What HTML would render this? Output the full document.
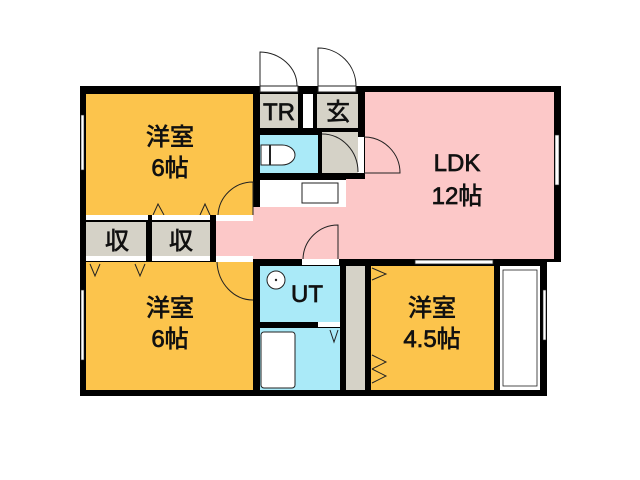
<!DOCTYPE html>
<html><head><meta charset="utf-8"><style>body{margin:0;background:#fff}svg{display:block}text{font-family:"Liberation Sans","Noto Sans CJK JP",sans-serif;fill:#111;stroke:#111;stroke-width:0.7}</style></head><body>
<svg width="640" height="480" viewBox="0 0 640 480">
<rect x="80" y="86" width="481" height="176" fill="#000"/>
<rect x="80" y="256" width="467" height="140" fill="#000"/>
<rect x="365" y="92" width="189" height="167" fill="#fcc8c8"/>
<rect x="216" y="207" width="338" height="52" fill="#fcc8c8"/>
<rect x="346" y="179" width="19" height="30" fill="#fcc8c8"/>
<rect x="260" y="180" width="86" height="27" fill="#fff"/>
<rect x="302" y="183" width="36" height="20" fill="#fff" stroke="#222" stroke-width="1"/>
<rect x="86" y="94" width="167" height="121" fill="#fcc44c"/>
<rect x="86" y="222" width="60" height="34" fill="#d5d2c7"/>
<rect x="152" y="222" width="58" height="34" fill="#d5d2c7"/>
<rect x="260" y="94" width="38" height="34" fill="#d5d2c7"/>
<rect x="303" y="94" width="10" height="34" fill="#fff"/>
<rect x="317" y="94" width="41" height="34" fill="#d5d2c7"/>
<rect x="322" y="132" width="36" height="41" fill="#d5d2c7"/>
<rect x="260" y="135" width="58" height="38" fill="#aaeaf8"/>
<path d="M261 145 H282 A13 10 0 0 1 282 165 H261 Z" fill="#fff" stroke="#222"/>
<line x1="270" y1="145" x2="270" y2="165" stroke="#222" stroke-width="2"/>
<rect x="86" y="262" width="167" height="128" fill="#fcc44c"/>
<rect x="260" y="266" width="80" height="56" fill="#aaeaf8"/>
<circle cx="276" cy="280" r="9" fill="#fff" stroke="#222"/>
<circle cx="276" cy="280" r="1.2" fill="#222"/>
<rect x="260" y="328" width="80" height="62" fill="#aaeaf8"/>
<rect x="261" y="332" width="34" height="56" rx="3" fill="#fff" stroke="#222"/>
<rect x="346" y="266" width="19" height="124" fill="#d5d2c7"/>
<rect x="371" y="266" width="123" height="124" fill="#fcc44c"/>
<rect x="500" y="266" width="40" height="124" fill="#fff"/>
<rect x="503" y="270" width="34" height="116" fill="#fff" stroke="#222" stroke-width="0.8"/>
<g fill="#fff" stroke="#222" stroke-width="0.6">
<rect x="81" y="115" width="3" height="55"/>
<rect x="81" y="290" width="3" height="70"/>
<rect x="555" y="135" width="4" height="50"/>
<rect x="543" y="290" width="3" height="50"/>
</g>
<g fill="none" stroke="#222" stroke-width="1">
<rect x="260" y="86" width="38" height="6" fill="#fff"/><path d="M260 86 V52 A38 34 0 0 1 297 86"/>
<rect x="318" y="86" width="38" height="6" fill="#fff"/><path d="M318 86 V48 A38 38 0 0 1 356 86"/>
<rect x="358" y="137" width="6" height="36" fill="#fff" stroke="none"/><path d="M364 173 H400 A36 36 0 0 0 364 137"/>
<path d="M322 134 A36 38 0 0 1 358 172"/>
<rect x="216" y="215" width="37" height="6" fill="#fff" stroke="none"/><path d="M253 215 V182 A35 35 0 0 0 218 215"/>
<rect x="216" y="256" width="37" height="6" fill="#fff" stroke="none"/><path d="M253 300 A36 40 0 0 1 217 262"/>
<rect x="302" y="259" width="37" height="6" fill="#fff" stroke="none"/><path d="M338 259 V225 A35 35 0 0 0 303 259"/>
<path d="M153 215 L158 204 L164 215 M200 215 L205 204 L210 215"/>
<path d="M90 264 L95 276 L100 264 M135 264 L140 276 L145 264"/>
<path d="M372 268 L386 274 L372 280 M372 355 L386 362 L372 369 M372 369 L386 376 L372 383"/>
<path d="M330 330 L334 342 L338 330"/>
</g>
<rect x="415" y="260" width="78" height="4" fill="#fff" stroke="#222" stroke-width="0.8"/>
<rect x="86" y="215" width="62" height="5" fill="#fff"/>
<rect x="152" y="215" width="58" height="5" fill="#fff"/>
<rect x="86" y="256" width="60" height="5" fill="#fff"/>
<rect x="152" y="256" width="58" height="5" fill="#fff"/>
<rect x="318" y="322" width="22" height="5" fill="#fff"/>
<g font-size="24" text-anchor="middle">
<text x="170" y="145">洋室</text><text x="170" y="176">6帖</text>
<text x="170" y="316">洋室</text><text x="170" y="347">6帖</text>
<text x="432" y="316">洋室</text><text x="432" y="347">4.5帖</text>
<text x="457" y="171">LDK</text><text x="457" y="204">12帖</text>
<text x="117" y="249">収</text><text x="181" y="249">収</text>
<text x="279" y="120">TR</text><text x="338" y="120">玄</text>
<text x="307" y="302">UT</text>
</g>
</svg>
</body></html>
